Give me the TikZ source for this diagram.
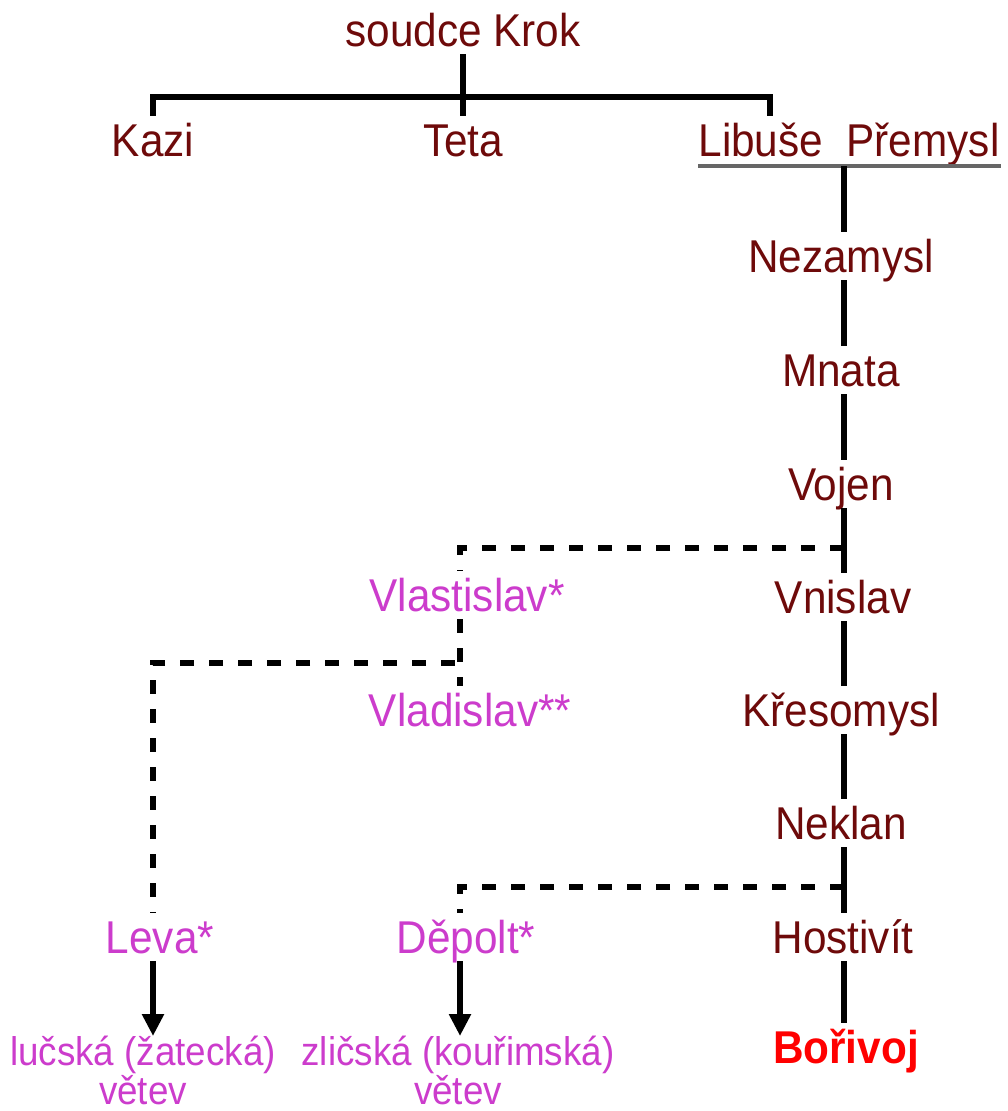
\documentclass[tikz,border=0pt]{standalone}
\usepackage{fontspec}
\setmainfont{Liberation Sans}[FakeStretch=0.92]
\usetikzlibrary{arrows.meta}
\definecolor{maroon}{RGB}{110,10,10}
\definecolor{mag}{RGB}{204,60,204}
\definecolor{ulgray}{RGB}{102,102,102}
\tikzset{
  nm/.style={inner sep=0pt, text height=40.75pt, text depth=7.25pt, font=\fontsize{46}{50}\selectfont, text=maroon},
  side/.style={nm, text=mag},
  branch/.style={inner sep=0pt, align=center, anchor=north, font=\fontsize{40}{35}\selectfont, text=mag},
  solidline/.style={line width=6pt, black},
  dsh/.style={line width=6pt, black, dash pattern=on 14pt off 15pt},
  arr/.style={line width=6pt, black, -{Triangle[length=22pt,width=21pt]}}
}
\begin{document}
\begin{tikzpicture}[x=1pt,y=-1pt]
\useasboundingbox (0,0) rectangle (1007,1111);
% nodes
\node[nm] (krok) at (463,30) {soudce Krok};
\node[nm] (kazi) at (153,140) {Kazi};
\node[nm] (teta) at (463,140) {Teta};
\node[nm] (lib) at (849,140) {Libuše\ \ Přemysl};
\node[nm] (nez) at (841,256) {Nezamysl};
\node[nm] (mna) at (841,370) {Mnata};
\node[nm] (voj) at (841,484) {Vojen};
\node[nm] (vni) at (843,597) {Vnislav};
\node[nm] (kre) at (841,710) {Křesomysl};
\node[nm] (nek) at (841,823) {Neklan};
\node[nm] (hos) at (843,937) {Hostivít};
\node[nm, text=red, font=\fontsize{46}{50}\selectfont\bfseries] (bor) at (846,1047) {Bořivoj};
\node[side] (vlast) at (467,595) {Vlastislav*};
\node[side] (vlad) at (470,710) {Vladislav**};
\node[side] (leva) at (160,937) {Leva*};
\node[side] (depolt) at (466,937) {Děpolt*};
\node[branch] (luc) at (143,1036) {lučská (žatecká)\\větev};
\node[branch] (zli) at (458,1036) {zličská (kouřimská)\\větev};
% coordinates
\coordinate (barL) at (153,97);
\coordinate (barR) at (770,97);
\coordinate (ulL) at (698,166);
\coordinate (ulR) at (1001,166);
\coordinate (sp) at (844,166);
\coordinate (j1) at (844,548);
\coordinate (c1) at (460,548);
\coordinate (j2) at (455,663);
\coordinate (c2) at (153,663);
\coordinate (j3) at (844,887);
\coordinate (c3) at (460,887);
% top tree
\draw[solidline] (krok.south) -- (teta.north);
\draw[solidline] (kazi.north) -- (barL) -- (barR) -- (barR |- lib.north);
\draw[ulgray, line width=3.5pt] (ulL) -- (ulR);
% main line
\draw[solidline] (sp) -- (sp |- nez.north);
\draw[solidline] (sp |- nez.south) -- (sp |- mna.north);
\draw[solidline] (sp |- mna.south) -- (sp |- voj.north);
\draw[solidline] (sp |- voj.south) -- (sp |- vni.north);
\draw[solidline] (sp |- vni.south) -- (sp |- kre.north);
\draw[solidline] (sp |- kre.south) -- (sp |- nek.north);
\draw[solidline] (sp |- nek.south) -- (sp |- hos.north);
\draw[solidline] (sp |- hos.south) -- (sp |- bor.north);
% dashed side branches
\draw[dsh] (j1) -- (c1) -- (c1 |- vlast.north);
\draw[dsh] (c1 |- vlast.south) -- (c1 |- vlad.north);
\draw[dsh] (j2) -- (c2) -- (c2 |- leva.north);
\draw[dsh] (j3) -- (c3) -- (c3 |- depolt.north);
% arrows
\draw[arr] (c2 |- leva.south) -- (c2 |- luc.north);
\draw[arr] (c3 |- depolt.south) -- (c3 |- zli.north);
\end{tikzpicture}
\end{document}
